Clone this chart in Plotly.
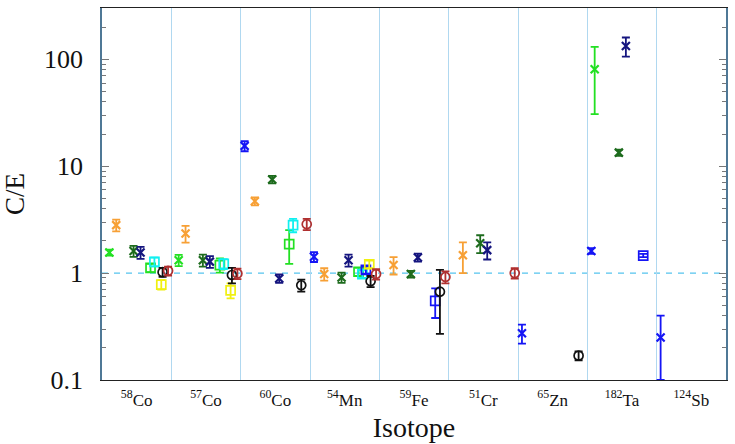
import plotly.graph_objects as go

isotopes = ["58Co", "57Co", "60Co", "54Mn", "59Fe", "51Cr", "65Zn", "182Ta", "124Sb"]
tick_labels = ["<sup>58</sup>Co", "<sup>57</sup>Co", "<sup>60</sup>Co", "<sup>54</sup>Mn",
               "<sup>59</sup>Fe", "<sup>51</sup>Cr", "<sup>65</sup>Zn", "<sup>182</sup>Ta",
               "<sup>124</sup>Sb"]

N = None
# C/E values per series (None = no measurement)
blue_x      = [N, N, 15.5, 1.42, N, N, 0.274, 1.61, 0.25]
blue_x_err  = [N, N, 1.7, 0.15, N, N, 0.055, 0.10, 0.15]
lime_x      = [1.56, 1.32, N, N, N, N, N, 80.7, N]
lime_x_err  = [0.10, 0.16, N, N, N, N, N, 50, N]
orange_x    = [2.81, 2.35, 4.71, 0.98, 1.19, 1.47, N, N, N]
orange_x_err = [0.35, 0.42, 0.40, 0.13, 0.22, 0.47, N, N, N]
dkgreen_x   = [1.61, 1.32, 7.52, 0.91, 0.98, 1.90, N, 13.4, N]
dkgreen_x_err = [0.19, 0.17, 0.60, 0.10, 0.07, 0.36, N, 0.9, N]
navy_x      = [1.56, 1.28, 0.89, 1.32, 1.40, 1.64, N, 133, N]
navy_x_err  = [0.20, 0.16, 0.08, 0.17, 0.12, 0.30, N, 27, N]
lime_sq     = [1.12, 1.19, 1.87, 1.03, N, N, N, N, N]
lime_sq_err = [0.10, 0.18, 0.65, 0.09, N, N, N, N, N]
cyan_sq     = [1.275, 1.22, 2.81, 0.98, N, N, N, N, N]
cyan_sq_err = [0.12, 0.13, 0.40, 0.08, N, N, N, N, N]
blue_sq     = [N, N, N, 1.07, 0.55, N, N, 1.46, N]
blue_sq_err = [N, N, N, 0.08, 0.17, N, N, 0.05, N]
yellow_sq   = [0.78, 0.69, N, 1.21, N, N, N, N, N]
yellow_sq_err = [0.08, 0.11, N, 0.10, N, N, N, N, N]
black_o     = [1.02, 0.96, 0.77, 0.84, 0.67, N, 0.169, N, N]
black_o_err = [0.10, 0.16, 0.10, 0.10, 0.40, N, 0.016, N, N]
red_o       = [1.05, 0.99, 2.87, 0.98, 0.92, 1.00, N, N, N]
red_o_err   = [0.10, 0.11, 0.35, 0.11, 0.12, 0.11, N, N, N]

# (values, errors, colour, symbol, offset within category)
series = [
    (blue_x, blue_x_err, "#1515f5", "x-thin", 0.057),
    (lime_x, lime_x_err, "#22e022", "x-thin", 0.106),
    (orange_x, orange_x_err, "#f7a035", "x-thin", 0.205),
    (dkgreen_x, dkgreen_x_err, "#1d6b1d", "x-thin", 0.455),
    (navy_x, navy_x_err, "#15157f", "x-thin", 0.556),
    (lime_sq, lime_sq_err, "#22e022", "square-open", 0.70),
    (cyan_sq, cyan_sq_err, "#10f0f0", "square-open", 0.756),
    (blue_sq, blue_sq_err, "#1515f5", "square-open", 0.806),
    (yellow_sq, yellow_sq_err, "#f0f010", "square-open", 0.855),
    (black_o, black_o_err, "#111111", "circle-open", 0.874),
    (red_o, red_o_err, "#b03030", "circle-open", 0.953),
]

SERIF = "Liberation Serif, Times New Roman, Times, DejaVu Serif, serif"

fig = go.Figure()
for vals, errs, col, sym, off in series:
    xs, ys, es = [], [], []
    for i, (v, e) in enumerate(zip(vals, errs)):
        if v is None:
            continue
        xs.append(i + off)
        ys.append(v)
        es.append(e)
    is_x = sym.startswith("x")
    fig.add_trace(go.Scatter(
        x=xs, y=ys, mode="markers",
        marker=dict(symbol=sym, color=col, size=8 if is_x else 9,
                    line=dict(color=col, width=2.2 if is_x else 1.7)),
        error_y=dict(type="data", array=es, visible=True, color=col,
                     thickness=1.8, width=4),
        showlegend=False,
    ))

# reference line at C/E = 1
fig.add_shape(type="line", xref="paper", x0=0, x1=1, yref="y", y0=1, y1=1,
              line=dict(color="#55c3ee", width=1.4, dash="6px,6px"), layer="below")

minor_y = [v * m for m in (0.1, 1, 10) for v in range(2, 10)] + [200]

fig.update_layout(
    width=735, height=444,
    margin=dict(l=100, r=7, t=8, b=63),
    paper_bgcolor="white", plot_bgcolor="white",
    font=dict(family=SERIF, color="#111111"),
    xaxis=dict(
        range=[0, 9], tickmode="array",
        tickvals=[i + 0.5 for i in range(len(isotopes))],
        ticktext=tick_labels, ticks="", showgrid=False, zeroline=False,
        tickfont=dict(size=17, family=SERIF),
        ticklabelstandoff=4,
        showline=True, linecolor="#222222", linewidth=1.2, mirror=True,
        minor=dict(tickmode="array", tickvals=list(range(1, 9)), showgrid=True,
                   gridcolor="#b0d8f0", gridwidth=1.2, ticks=""),
        title=dict(text="Isotope", font=dict(size=28, family=SERIF),
                   standoff=8),
    ),
    yaxis=dict(
        type="log", range=[-1, 2.48], tickmode="array",
        tickvals=[0.1, 1, 10, 100], ticktext=["0.1", "1", "10", "100"],
        ticks="inside", ticklen=7, tickcolor="#777777", tickwidth=1,
        showgrid=False, zeroline=False,
        tickfont=dict(size=26, family=SERIF),
        ticklabelstandoff=12,
        showline=True, linecolor="#4f7896", linewidth=1.5, mirror="ticks",
        minor=dict(tickmode="array", tickvals=minor_y, ticks="inside", ticklen=4,
                   tickcolor="#777777", tickwidth=1, showgrid=False),
        title=dict(text="C/E", font=dict(size=27, family=SERIF),
                   standoff=18),
    ),
)

fig.write_html("out.html")
